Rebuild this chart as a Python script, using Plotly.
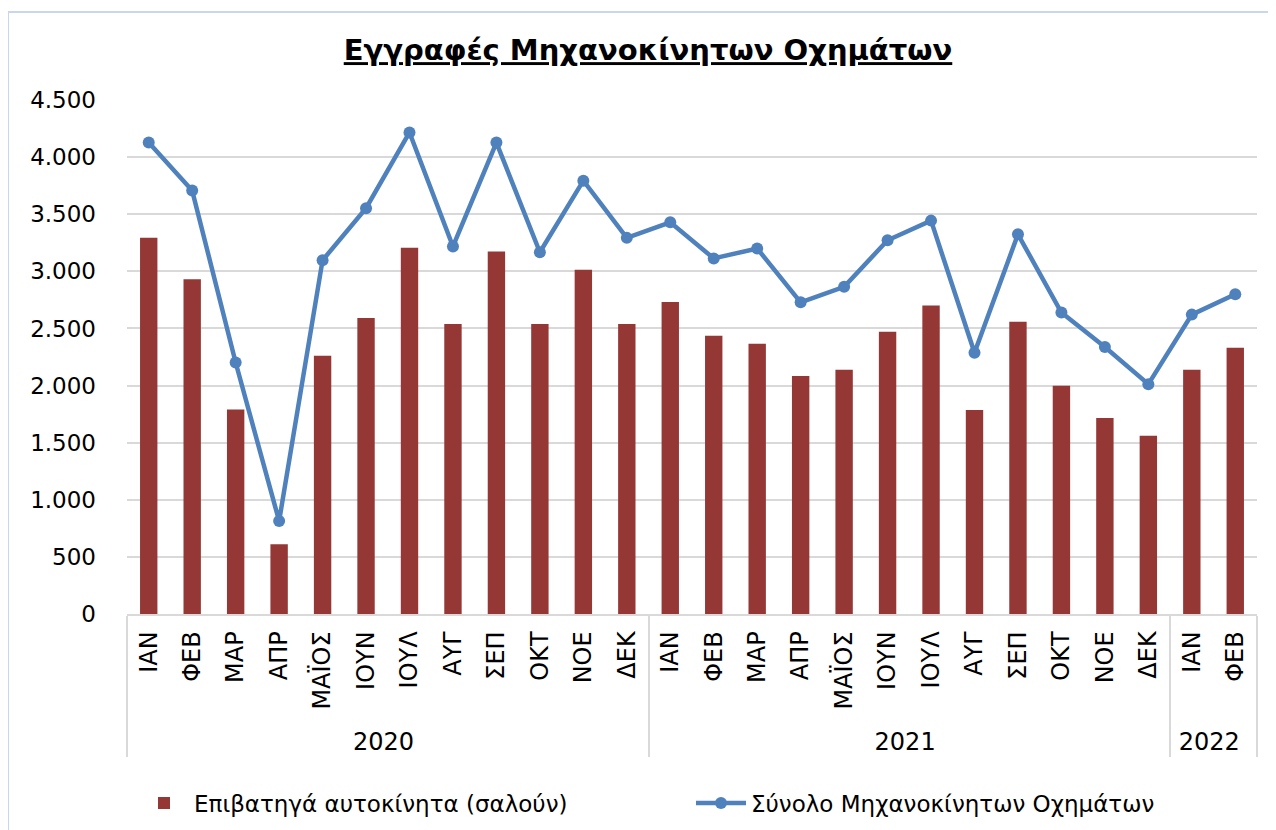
import plotly.graph_objects as go

years = ["2020"] * 12 + ["2021"] * 12 + ["2022"] * 2
months = ["ΙΑΝ", "ΦΕΒ", "ΜΑΡ", "ΑΠΡ", "ΜΑΪΟΣ", "ΙΟΥΝ", "ΙΟΥΛ", "ΑΥΓ", "ΣΕΠ", "ΟΚΤ", "ΝΟΕ", "ΔΕΚ",
          "ΙΑΝ", "ΦΕΒ", "ΜΑΡ", "ΑΠΡ", "ΜΑΪΟΣ", "ΙΟΥΝ", "ΙΟΥΛ", "ΑΥΓ", "ΣΕΠ", "ΟΚΤ", "ΝΟΕ", "ΔΕΚ",
          "ΙΑΝ", "ΦΕΒ"]

passenger_cars = [3295, 2930, 1790, 610, 2262, 2592, 3207, 2540, 3173, 2540, 3013, 2540,
                  2732, 2437, 2365, 2084, 2138, 2470, 2700, 1786, 2558, 1998, 1716, 1560,
                  2138, 2332]
total_vehicles = [4127, 3707, 2202, 814, 3097, 3553, 4216, 3218, 4127, 3167, 3794, 3293,
                  3429, 3113, 3200, 2729, 2865, 3272, 3444, 2287, 3324, 2639, 2337, 2012,
                  2621, 2799]

title_text = "Εγγραφές Μηχανοκίνητων Οχημάτων"
bar_name = "Επιβατηγά αυτοκίνητα (σαλούν)"
line_name = "Σύνολο Μηχανοκίνητων Οχημάτων"

FONT = "DejaVu Sans"

fig = go.Figure()
fig.add_trace(go.Bar(
    x=[years, months], y=passenger_cars, name=bar_name,
    marker=dict(color="#953735", line=dict(width=0)),
))
fig.add_trace(go.Scatter(
    x=[years, months], y=total_vehicles, name=line_name,
    mode="lines+markers",
    line=dict(color="#4F81BD", width=4.5),
    marker=dict(color="#4F81BD", size=12),
))

# page body has an 8px margin
OFF = 8
W, H = 1276 - OFF, 830 - OFF
L, R, T, B = 127 - OFF, 19, 100 - OFF, 216
pw, ph = W - L - R, H - T - B

def px_x(x):
    return (x - OFF - L) / pw

def px_y(y):
    return (H - B - (y - OFF)) / ph

border = "#c9d7ee"
fig.add_shape(type="line", xref="paper", yref="paper",
              x0=px_x(8), x1=px_x(1290), y0=px_y(12), y1=px_y(12),
              line=dict(color=border, width=2))
fig.add_shape(type="line", xref="paper", yref="paper",
              x0=px_x(8), x1=px_x(8), y0=px_y(12), y1=px_y(840),
              line=dict(color=border, width=2))

fig.update_layout(
    width=W, height=H,
    margin=dict(l=L, r=R, t=T, b=B, autoexpand=False),
    paper_bgcolor="white", plot_bgcolor="white",
    separators=",.",
    font=dict(family=FONT, color="#000000", size=18),
    title=dict(text="<b><u>" + title_text + "</u></b>",
               x=(648 - OFF) / W, xref="container", xanchor="center",
               y=1 - (50 - OFF) / H, yref="container", yanchor="middle",
               font=dict(family=FONT, size=29, color="#000000")),
    bargap=0.6,
    showlegend=True,
    legend=dict(orientation="h",
                x=(134 - OFF) / W, xref="container", xanchor="left",
                y=1 - (803 - OFF) / H, yref="container", yanchor="middle",
                font=dict(family=FONT, size=23), itemwidth=50,
                entrywidth=492,
                bgcolor="rgba(0,0,0,0)"),
    xaxis=dict(
        type="multicategory",
        range=[-0.5, 25.5],
        tickangle=-90,
        tickfont=dict(family=FONT, size=24),
        showline=True, linecolor="#d9d9d9", linewidth=1.5,
        showgrid=False, ticks="",
        showdividers=True, dividercolor="#d9d9d9", dividerwidth=1.5,
        ticklabelstandoff=6,
        automargin=False,
    ),
    yaxis=dict(
        range=[0, 4500], dtick=500, tickformat=",d",
        showgrid=True, gridcolor="#d9d9d9", gridwidth=1.5,
        zeroline=False, showline=False, ticks="",
        tickfont=dict(family=FONT, size=23),
        ticklabelstandoff=30,
        automargin=False,
    ),
)

fig.write_html("out.html")
